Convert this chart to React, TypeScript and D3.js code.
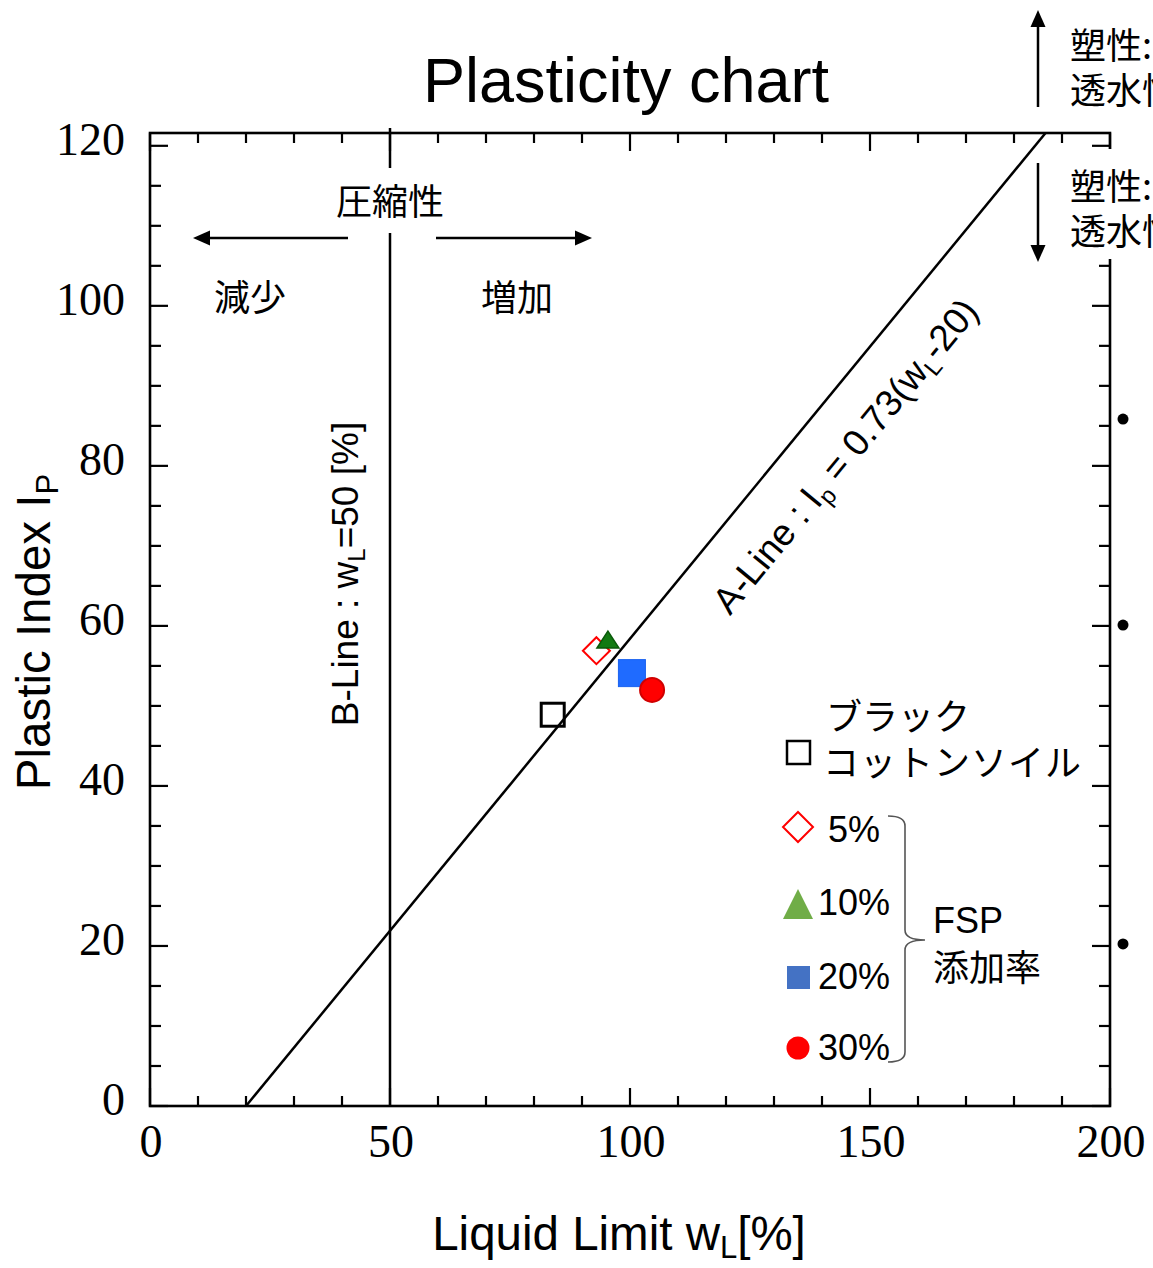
import React from "react";
import * as d3 from "d3";

// ---- data ----
const sampleNames = ["ブラックコットンソイル", "5%", "10%", "20%", "30%"];
const liquidLimit = [83.9, 93.0, 95.4, 100.4, 104.6];
const plasticIndex = [48.9, 56.9, 58.1, 54.1, 52.0];
const xTickLabels = [0, 50, 100, 150, 200];
const yTickLabels = [0, 20, 40, 60, 80, 100, 120];
const rightDots = [85.85, 60.1, 20.25];
const xMinorStep = 10;
const yMinorStep = 5;
const aLineSlope = 0.73;
const aLineOffset = 20;
const bLineValue = 50;
const xDomain = [0, 200];
const yDomain = [0, 121.6];

const W = 1153;
const H = 1268;
const L = 150, R = 1110, T = 133, B = 1106;

const SANS = "'Liberation Sans', Arial, sans-serif";
const SERIF = "'Liberation Serif', 'Times New Roman', serif";
const CJK = "'Noto Sans CJK JP', 'Noto Sans', sans-serif";

export default function App() {
  const x = d3.scaleLinear().domain(xDomain).range([L, R]);
  const y = d3.scaleLinear().domain(yDomain).range([B, T]);

  const xMinor = d3.range(xDomain[0], xDomain[1] + 0.001, xMinorStep);
  const yMinor = d3.range(0, 120 + 0.001, yMinorStep);

  const aEndX = aLineOffset + yDomain[1] / aLineSlope;
  const aLine = d3.line<number>()
    .x((d) => x(d))
    .y((d) => y(aLineSlope * (d - aLineOffset)));
  const aPath = aLine([aLineOffset, aEndX]) || "";
  const angle = (Math.atan2(y(0) - y(aLineSlope * 100), x(100 + aLineOffset) - x(aLineOffset)) * 180) / Math.PI;

  const stroke = "#000";
  const sw = 2.6;

  const markers = sampleNames.map((name, i) => {
    const cx = x(liquidLimit[i]);
    const cy = y(plasticIndex[i]);
    if (i === 0)
      return <rect key={name} x={cx - 11.5} y={cy - 11.5} width={23} height={23} fill="none" stroke="#000" strokeWidth={3} />;
    if (i === 1)
      return <path key={name} d={`M${cx},${cy - 13.5}L${cx + 13.5},${cy}L${cx},${cy + 13.5}L${cx - 13.5},${cy}Z`} fill="#fff" stroke="#ff0000" strokeWidth={2} />;
    if (i === 2)
      return <path key={name} d={`M${cx},${cy - 10}L${cx + 11},${cy + 7}L${cx - 11},${cy + 7}Z`} fill="#127a12" stroke="#0a5a0a" strokeWidth={1.5} />;
    if (i === 3)
      return <rect key={name} x={cx - 13.5} y={cy - 13.5} width={27} height={27} fill="#1f6bff" stroke="#1a62f0" strokeWidth={1} />;
    return <circle key={name} cx={cx} cy={cy} r={12} fill="#ff0000" stroke="#d00000" strokeWidth={2} />;
  });

  const arrowH = (x1: number, x2: number, yy: number) => {
    const dir = Math.sign(x2 - x1);
    return (
      <g>
        <line x1={x1} y1={yy} x2={x2 - dir * 14} y2={yy} stroke="#000" strokeWidth={2.5} />
        <path d={`M${x2},${yy}L${x2 - dir * 17},${yy - 7.5}L${x2 - dir * 17},${yy + 7.5}Z`} fill="#000" />
      </g>
    );
  };
  const arrowV = (xx: number, y1: number, y2: number) => {
    const dir = Math.sign(y2 - y1);
    return (
      <g>
        <line x1={xx} y1={y1} x2={xx} y2={y2 - dir * 14} stroke="#000" strokeWidth={2.5} />
        <path d={`M${xx},${y2}L${xx - 7.5},${y2 - dir * 17}L${xx + 7.5},${y2 - dir * 17}Z`} fill="#000" />
      </g>
    );
  };

  return (
    <div style={{ position: "absolute", left: 0, top: 0 }}>
      <svg width={W} height={H} style={{ display: "block", background: "#fff" }}>
        <rect x={0} y={0} width={W} height={H} fill="#fff" />
        {/* Title */}
        <text x={626} y={102} textAnchor="middle" fontFamily={SANS} fontSize={63}>Plasticity chart</text>

        {/* B-line */}
        <line x1={x(bLineValue)} y1={T - 5} x2={x(bLineValue)} y2={B} stroke="#000" strokeWidth={2.5} />
        {/* A-line */}
        <path d={aPath} fill="none" stroke="#000" strokeWidth={2.5} />

        {/* frame */}
        <rect x={L} y={T} width={R - L} height={B - T} fill="none" stroke={stroke} strokeWidth={sw} />

        {xMinor.map((v) => {
          const major = xTickLabels.includes(v);
          const len = major ? 18 : 10;
          return (
            <g key={"xt" + v}>
              <line x1={x(v)} x2={x(v)} y1={B} y2={B - len} stroke={stroke} strokeWidth={2.2} />
              <line x1={x(v)} x2={x(v)} y1={T} y2={T + len} stroke={stroke} strokeWidth={2.2} />
            </g>
          );
        })}
        {yMinor.map((v) => {
          const major = yTickLabels.includes(v);
          const len = major ? 18 : 11;
          return (
            <g key={"yt" + v}>
              <line x1={L} x2={L + len} y1={y(v)} y2={y(v)} stroke={stroke} strokeWidth={2.2} />
              <line x1={R} x2={R - len} y1={y(v)} y2={y(v)} stroke={stroke} strokeWidth={2.2} />
            </g>
          );
        })}

        {xTickLabels.map((v) => (
          <text key={"xl" + v} x={x(v) + 1} y={1157} textAnchor="middle" fontFamily={SERIF} fontSize={46}>{v}</text>
        ))}
        {yTickLabels.map((v) => (
          <text key={"yl" + v} x={125} y={y(v) + 9} textAnchor="end" fontFamily={SERIF} fontSize={46}>{v}</text>
        ))}

        {/* axis titles */}
        <text x={619} y={1250} textAnchor="middle" fontFamily={SANS} fontSize={47.5}>
          Liquid Limit w<tspan fontSize={31} dy={8}>L</tspan><tspan dy={-8}>[%]</tspan>
        </text>
        <text transform="translate(50,632) rotate(-90)" textAnchor="middle" fontFamily={SANS} fontSize={47.5}>
          Plastic Index I<tspan fontSize={31} dy={8}>P</tspan>
        </text>

        {/* compressibility annotation */}
        <rect x={330} y={168} width={120} height={65} fill="#fff" />
        <text x={390} y={215} textAnchor="middle" fontFamily={CJK} fontSize={36}>圧縮性</text>
        {arrowH(348, 193, 238)}
        {arrowH(436, 592, 238)}
        <text x={250} y={311} textAnchor="middle" fontFamily={CJK} fontSize={36}>減少</text>
        <text x={517} y={311} textAnchor="middle" fontFamily={CJK} fontSize={36}>増加</text>

        {/* B-line label */}
        <text transform="translate(358,574) rotate(-90)" textAnchor="middle" fontFamily={SANS} fontSize={37}>
          B-Line : w<tspan fontSize={24} dy={7}>L</tspan><tspan dy={-7}>=50 [%]</tspan>
        </text>

        {/* A-line label */}
        <text transform={`translate(855,464) rotate(${-angle})`} textAnchor="middle" fontFamily={SANS} fontSize={37}>
          A-Line : I<tspan fontSize={24} dy={7}>p</tspan><tspan dy={-7}> = 0.73(w</tspan><tspan fontSize={24} dy={7}>L</tspan><tspan dy={-7}>-20)</tspan>
        </text>

        {/* right side annotation box */}
        <rect x={1064} y={149} width={W - 1064} height={110} fill="#fff" />
        {arrowV(1038, 107, 10)}
        {arrowV(1038, 163, 262)}
        <text x={1070} y={59} fontFamily={CJK} fontSize={36}>塑性:</text>
        <text x={1070} y={104} fontFamily={CJK} fontSize={36}>透水性</text>
        <text x={1070} y={200} fontFamily={CJK} fontSize={36}>塑性:</text>
        <text x={1070} y={245} fontFamily={CJK} fontSize={36}>透水性</text>
        {rightDots.map((v) => (
          <circle key={"dot" + v} cx={1123} cy={y(v)} r={5.5} fill="#000" />
        ))}

        {markers}

        {/* legend */}
        <rect x={787} y={741} width={23} height={23} fill="none" stroke="#000" strokeWidth={2.5} />
        <text x={826} y={730} fontFamily={CJK} fontSize={36}>ブラック</text>
        <text x={823} y={776} fontFamily={CJK} fontSize={36} letterSpacing={1}>コットンソイル</text>

        <path d="M798,812L813,827L798,842L783,827Z" fill="#fff" stroke="#ff0000" strokeWidth={2} />
        <text x={828} y={842} fontFamily={SANS} fontSize={36}>5%</text>

        <path d="M798,889L813,919L783,919Z" fill="#70ad47" />
        <text x={818} y={915} fontFamily={SANS} fontSize={36}>10%</text>

        <rect x={787} y={966} width={23} height={23} fill="#4472c4" />
        <text x={818} y={989} fontFamily={SANS} fontSize={36}>20%</text>

        <circle cx={798} cy={1048} r={11.5} fill="#ff0000" />
        <text x={818} y={1060} fontFamily={SANS} fontSize={36}>30%</text>

        <path
          d="M888,816 Q905,816 905,826 L905,930 Q905,940 925,940 Q905,940 905,950 L905,1052 Q905,1062 888,1062"
          fill="none" stroke="#555" strokeWidth={1.6}
        />
        <text x={933} y={933} fontFamily={SANS} fontSize={36}>FSP</text>
        <text x={933} y={981} fontFamily={CJK} fontSize={36}>添加率</text>
      </svg>
    </div>
  );
}
